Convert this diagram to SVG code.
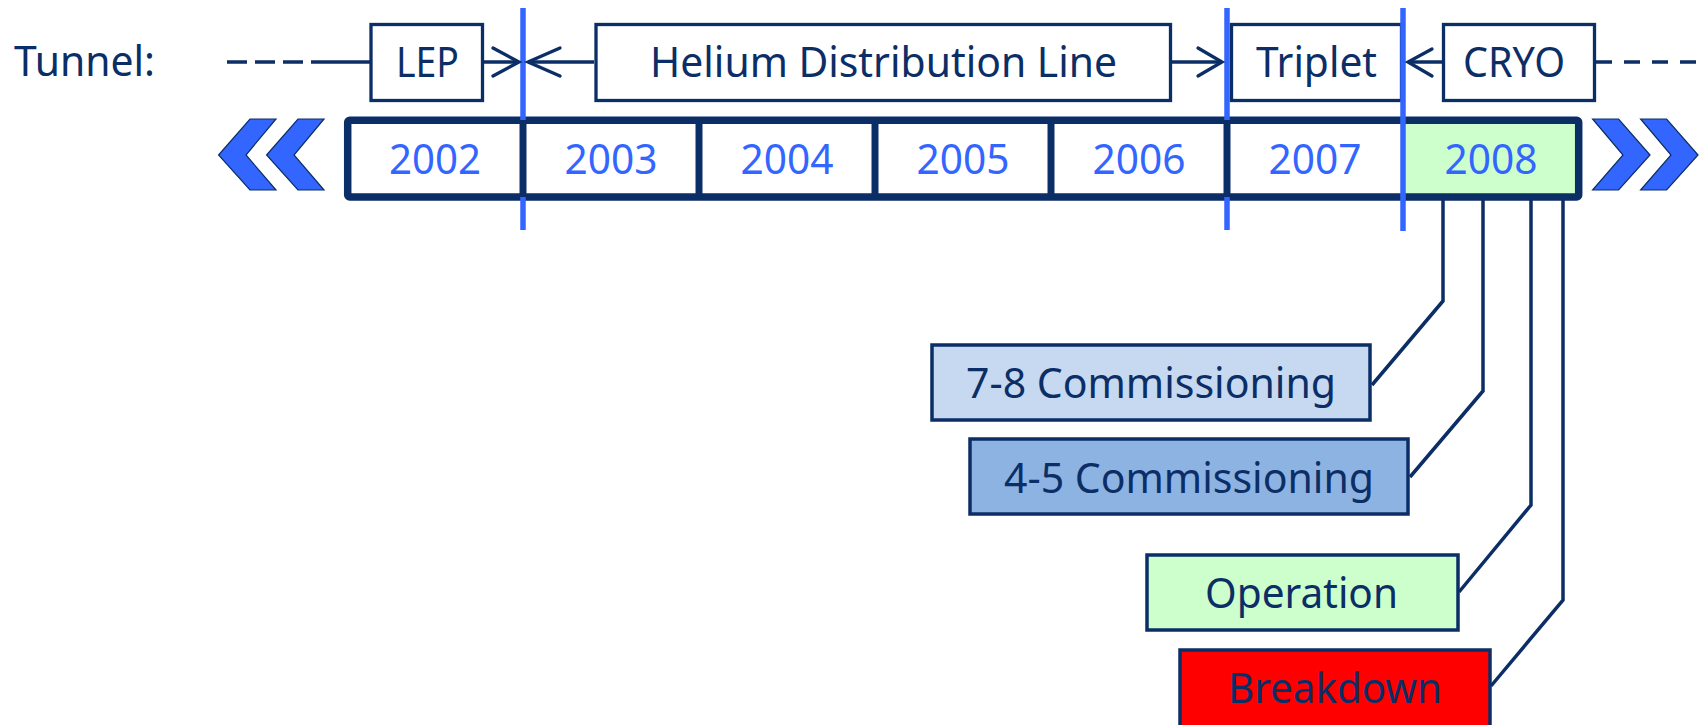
<svg xmlns="http://www.w3.org/2000/svg" width="1699" height="725" viewBox="0 0 1699 725">
<style>
  .t { font-family: "Noto Sans", "Open Sans", sans-serif; font-size: 42px; fill: #0C2E66; }
  .yr { font-family: "Noto Sans", "Open Sans", sans-serif; font-size: 42px; fill: #3366FF; text-anchor: middle; }
  .box { fill: #FFFFFF; stroke: #0C2E66; stroke-width: 3.3; }
  .line { fill: none; stroke: #0C2E66; stroke-width: 3.3; }
  .head { fill: none; stroke: #0C2E66; stroke-width: 3.3; stroke-linecap: round; stroke-linejoin: miter; }
  .blue { stroke: #3366FF; stroke-width: 5.5; }
  .div { stroke: #0C2E66; stroke-width: 7; }
  .chev { fill: #3366FF; stroke: #0C2E66; stroke-width: 1.2; }
  .conn { fill: none; stroke: #0C2E66; stroke-width: 3.5; }
</style>
<rect width="1699" height="725" fill="#FFFFFF"/>

<g id="tunnel-label">
  <text class="t" x="14" y="76" textLength="141" lengthAdjust="spacingAndGlyphs">Tunnel:</text>
</g>

<g id="chevrons-left">
  <polygon class="chev" points="218.6,155 250,119 276,119 246,155 276,190 250,190"/>
  <polygon class="chev" points="266.6,155 298,119 324,119 294,155 324,190 298,190"/>
</g>
<g id="chevrons-right">
  <polygon class="chev" points="1650,155 1618.6,119 1592.6,119 1623,155 1592.6,190 1618.6,190"/>
  <polygon class="chev" points="1698,155 1666.6,119 1640.6,119 1671,155 1640.6,190 1666.6,190"/>
</g>

<g id="timeline">
  <rect x="347.7" y="120.3" width="1231" height="76.7" fill="#FFFFFF"/>
  <rect x="1403" y="120.3" width="175.7" height="76.7" fill="#CCFFCC"/>
  <rect x="347.7" y="120.3" width="1231" height="76.7" rx="2" fill="none" stroke="#0C2E66" stroke-width="7.5"/>
</g>

<g id="boundaries-back">
  <line class="blue" x1="523" y1="8" x2="523" y2="230"/>
  <line class="blue" x1="1227" y1="8" x2="1227" y2="230"/>
</g>

<g id="dividers">
  <line class="div" x1="523" y1="120" x2="523" y2="197"/>
  <line class="div" x1="699" y1="120" x2="699" y2="197"/>
  <line class="div" x1="875" y1="120" x2="875" y2="197"/>
  <line class="div" x1="1051" y1="120" x2="1051" y2="197"/>
  <line class="div" x1="1227" y1="120" x2="1227" y2="197"/>
</g>

<g id="year-2002"><text class="yr" x="435" y="174" textLength="92" lengthAdjust="spacingAndGlyphs">2002</text></g>
<g id="year-2003"><text class="yr" x="611" y="174" textLength="93" lengthAdjust="spacingAndGlyphs">2003</text></g>
<g id="year-2004"><text class="yr" x="787" y="174" textLength="93" lengthAdjust="spacingAndGlyphs">2004</text></g>
<g id="year-2005"><text class="yr" x="963" y="174" textLength="93" lengthAdjust="spacingAndGlyphs">2005</text></g>
<g id="year-2006"><text class="yr" x="1139" y="174" textLength="93" lengthAdjust="spacingAndGlyphs">2006</text></g>
<g id="year-2007"><text class="yr" x="1315" y="174" textLength="93" lengthAdjust="spacingAndGlyphs">2007</text></g>
<g id="year-2008"><text class="yr" x="1491" y="174" textLength="93" lengthAdjust="spacingAndGlyphs">2008</text></g>

<g id="box-lep">
  <rect class="box" x="371" y="24.5" width="111.5" height="76"/>
  <text class="t" x="396" y="77" textLength="63" lengthAdjust="spacingAndGlyphs">LEP</text>
</g>
<g id="box-helium">
  <rect class="box" x="596" y="24.5" width="574.5" height="76"/>
  <text class="t" x="650" y="77" textLength="467" lengthAdjust="spacingAndGlyphs">Helium Distribution Line</text>
</g>
<g id="box-triplet">
  <rect class="box" x="1231.5" y="24.5" width="170" height="76"/>
  <text class="t" x="1256" y="77" textLength="121" lengthAdjust="spacingAndGlyphs">Triplet</text>
</g>
<g id="box-cryo">
  <rect class="box" x="1443.5" y="24.5" width="151" height="76"/>
  <text class="t" x="1463" y="77" textLength="102" lengthAdjust="spacingAndGlyphs">CRYO</text>
</g>

<g id="boundary-front">
  <line class="blue" x1="1403" y1="8" x2="1403" y2="231"/>
</g>

<g id="connectors">
  <line class="line" x1="227" y1="62" x2="304" y2="62" stroke-dasharray="20 8"/>
  <line class="line" x1="311" y1="62" x2="370" y2="62"/>
  <line class="line" x1="1596" y1="62" x2="1699" y2="62" stroke-dasharray="16 12"/>

  <line class="line" x1="484" y1="62" x2="519" y2="62"/>
  <polyline class="head" points="493,48 519,62 493,76"/>
  <line class="line" x1="594" y1="62" x2="528" y2="62"/>
  <polyline class="head" points="560,48 528,62 560,76"/>
  <line class="line" x1="1172" y1="62" x2="1222" y2="62"/>
  <polyline class="head" points="1198,48 1222,62 1198,76"/>
  <line class="line" x1="1442" y1="62" x2="1408" y2="62"/>
  <polyline class="head" points="1432,49 1408,62 1432,76"/>

  <polyline class="conn" points="1443,200 1443,301 1372,385"/>
  <polyline class="conn" points="1483,200 1483,391 1410,477"/>
  <polyline class="conn" points="1531,200 1531,505 1459,592"/>
  <polyline class="conn" points="1563,200 1563,600 1491,686"/>
</g>

<g id="node-78">
  <rect x="932" y="345" width="438" height="75" fill="#C6D9F1" stroke="#0C2E66" stroke-width="3.5"/>
  <text class="t" x="966" y="398" textLength="370" lengthAdjust="spacingAndGlyphs">7-8 Commissioning</text>
</g>
<g id="node-45">
  <rect x="970" y="439" width="438" height="75" fill="#8DB3E2" stroke="#0C2E66" stroke-width="3.5"/>
  <text class="t" x="1004" y="492.5" textLength="370" lengthAdjust="spacingAndGlyphs">4-5 Commissioning</text>
</g>
<g id="node-operation">
  <rect x="1147" y="555" width="311" height="75" fill="#CCFFCC" stroke="#0C2E66" stroke-width="3.5"/>
  <text class="t" x="1205" y="608" textLength="193" lengthAdjust="spacingAndGlyphs">Operation</text>
</g>
<g id="node-breakdown">
  <rect x="1180" y="650" width="310" height="77" fill="#FF0000" stroke="#0C2E66" stroke-width="3.5"/>
  <text class="t" x="1228" y="703" textLength="214" lengthAdjust="spacingAndGlyphs">Breakdown</text>
</g>
</svg>
